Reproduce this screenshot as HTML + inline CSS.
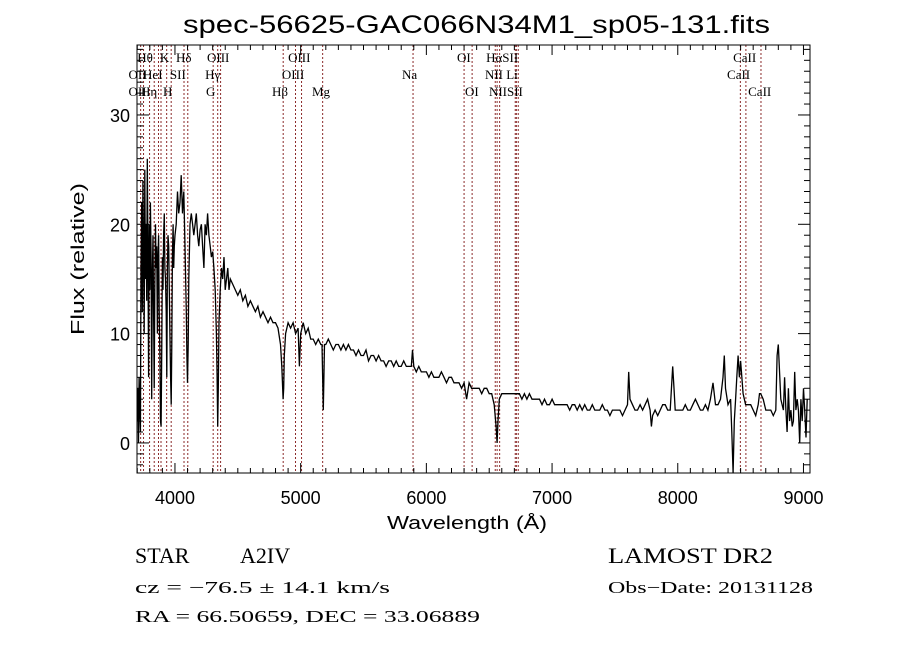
<!DOCTYPE html>
<html><head><meta charset="utf-8"><style>
html,body{margin:0;padding:0;background:#fff;}
svg{display:block;}
.sans{font-family:"Liberation Sans",sans-serif;}
.serif{font-family:"Liberation Serif",serif;}
</style></head><body>
<svg id="chart" width="900" height="649" viewBox="0 0 900 649" xmlns="http://www.w3.org/2000/svg">
<rect width="900" height="649" fill="#fff"/>
<text class="sans" x="183" y="33" font-size="25" textLength="587" lengthAdjust="spacingAndGlyphs">spec-56625-GAC066N34M1_sp05-131.fits</text>
<g id="lines"></g>
<g id="ticks"></g>
<path id="spec" fill="none" stroke="#000" stroke-width="1.3"/>
<rect x="137" y="45" width="673" height="428" fill="none" stroke="#000" stroke-width="1"/>
<g id="labels" class="serif" font-size="13"></g>
<text class="sans" x="467" y="529" font-size="18" text-anchor="middle" textLength="160" lengthAdjust="spacingAndGlyphs">Wavelength (Å)</text>
<text class="sans" font-size="18" text-anchor="middle" transform="translate(84,259) rotate(-90)" textLength="152" lengthAdjust="spacingAndGlyphs">Flux (relative)</text>
<text class="serif" x="135" y="563" font-size="22">STAR</text>
<text class="serif" x="240" y="563" font-size="22">A2IV</text>
<text class="serif" x="608" y="563" font-size="22" textLength="165" lengthAdjust="spacingAndGlyphs">LAMOST DR2</text>
<text class="serif" x="135" y="593" font-size="17" textLength="255" lengthAdjust="spacingAndGlyphs">cz = −76.5 ± 14.1 km/s</text>
<text class="serif" x="608" y="593" font-size="17" textLength="205" lengthAdjust="spacingAndGlyphs">Obs−Date: 20131128</text>
<text class="serif" x="135" y="622" font-size="17" textLength="345" lengthAdjust="spacingAndGlyphs">RA =  66.50659, DEC =  33.06889</text>
</svg>
<script>
const wave = [3700,3705,3710,3715,3720,3725,3730,3735,3740,3745,3750,3755,3760,3765,3770,3775,3780,3785,3790,3795,3800,3805,3810,3815,3820,3825,3830,3835,3840,3845,3850,3855,3860,3865,3870,3875,3880,3885,3890,3895,3900,3905,3910,3915,3920,3925,3930,3935,3940,3945,3950,3955,3960,3965,3970,3975,3980,3985,3990,3995,4000,4010,4020,4030,4040,4050,4060,4070,4080,4090,4095,4100,4105,4110,4120,4130,4140,4150,4160,4170,4180,4190,4200,4210,4220,4230,4240,4250,4260,4270,4280,4290,4300,4310,4320,4330,4335,4340,4345,4350,4360,4370,4380,4390,4400,4410,4420,4430,4440,4460,4480,4500,4520,4540,4560,4580,4600,4620,4640,4660,4680,4700,4720,4740,4760,4780,4800,4820,4840,4850,4860,4865,4870,4880,4900,4920,4940,4960,4980,4990,5000,5020,5040,5060,5080,5100,5120,5140,5160,5170,5180,5190,5200,5220,5240,5260,5280,5300,5320,5340,5360,5380,5400,5420,5440,5460,5480,5500,5520,5540,5560,5580,5600,5620,5640,5660,5680,5700,5720,5740,5760,5780,5800,5820,5840,5860,5880,5890,5900,5920,5940,5960,5980,6000,6020,6040,6060,6080,6100,6120,6140,6160,6180,6200,6220,6240,6260,6280,6300,6320,6340,6360,6380,6400,6420,6440,6460,6480,6500,6520,6540,6555,6563,6570,6580,6600,6620,6640,6660,6680,6700,6720,6740,6760,6780,6800,6820,6840,6860,6880,6900,6920,6940,6960,6980,7000,7020,7040,7060,7080,7100,7120,7140,7160,7180,7200,7220,7240,7260,7280,7300,7320,7340,7360,7380,7400,7420,7440,7460,7480,7500,7520,7540,7560,7580,7600,7610,7620,7640,7660,7680,7700,7720,7740,7760,7780,7790,7800,7820,7840,7860,7880,7900,7920,7940,7960,7970,7980,8000,8020,8040,8060,8080,8100,8120,8140,8160,8180,8200,8220,8240,8260,8280,8300,8320,8340,8360,8370,8380,8400,8420,8430,8440,8450,8460,8470,8480,8490,8500,8520,8540,8560,8580,8600,8620,8640,8650,8660,8680,8700,8720,8740,8760,8780,8790,8800,8820,8840,8850,8860,8870,8880,8890,8900,8910,8920,8930,8940,8950,8960,8970,8980,8990,9000,9010,9020,9030];
const flux = [2,5,0,6,3,1,16,22,12,24,18,10,25,15,20,13,26,18,6,20,14,22,17,4,15,19,12,5,14,20,16,18,10,17,19,12,8,2,1.5,9,17,14,19,21,16,15,12,6,16,19,18,14,10,6,3.5,9,17,20,16,18,19,20,23,21,22,24.5,21,23,18,12,8,5.5,9,15,20,21,20,19,20,21,19,18,19.5,20,18,16,20,19,21,19,18,17,17.5,16,14,10,6,1.5,5,11,14,16,15,17,14,15,16,14,15,14.5,14,13.5,14,13,13.5,12.5,13,12.5,12,12.5,11.5,12,11.5,11,11.5,11,11,10.5,9,7,4,5,8,10,11,10.5,11,10,10.5,7,10,11,10,10.5,9.5,9.5,9,9.5,9,9,3,9,9,9.5,9,8.5,9,9,8.5,9,8.5,9,8.5,8.5,8,8.5,8,8,8.5,7.5,8,8,7.5,8,7.5,7.5,7,7.5,7.5,7,7.5,7,7,7.5,7,7,7,8.5,7,6.5,7,6.5,6.5,6.5,6,6.5,6,6,6,6.5,6,5.5,6,6,5.5,5.5,5.5,5,5.5,4,5.5,5,5,5,5,4.5,5,5,4.5,4.5,3.5,1.5,0,2,4,4.5,4.5,4.5,4.5,4.5,4.5,4.5,4.5,4,4.5,4,4.5,4,4,4,4,3.5,4,3.5,3.5,4,3.5,3.5,3.5,3.5,3.5,3.5,3,3.5,3.5,3,3.5,3,3.5,3,3,3.5,3,3,3,3.5,3,3,2.5,3,3,3,3,2.5,3,3.5,6.5,4,3.5,3,3,3.5,3,3.5,4,3,1.5,2.5,3,2.5,3,3.5,3.5,3,3,7,5,3,3,3,3,3.5,3,3,3.5,4,3.5,3,3,3.5,3,4,5.5,3.5,3.5,4,6,8,5,3.5,4,1,-3,2,4,6,8,6,7.5,4.5,3.5,3.5,3.5,3,2.5,3.5,4.5,4.5,4,3,3,3,2.5,3,8,9,4,3,6,3,1,5,2,3,1.5,2,6.5,3,4,3,0,4,2,5,3,0.5,4,3];
const lineWaves = [3727,3750,3798,3835,3869,3889,3934,3970,4072,4102,4304,4340,4363,4861,4959,5007,5175,5894,6300,6364,6548,6563,6583,6707,6716,6731,8498,8542,8662];
const labelTexts = ["Hθ","K","Hδ","OIII","OIII","OI","HαSII","CaII","OII","HeI","SII","Hγ","OIII","Na","NII Li","CaII","OII","Hη","H","G","Hβ","Mg","OI","NIISII","CaII"];
const labelWaves = [3700,3880,4008,4255,4900,6244,6475,8440,3630,3746,3960,4240,4851,5806,6466,8392,3630,3730,3905,4247,4772,5090,6307,6498,8560];
const labelRows = [1,1,1,1,1,1,1,1,2,2,2,2,2,2,2,2,3,3,3,3,3,3,3,3,3];
const xTicks = [4000,5000,6000,7000,8000,9000];
const yTicks = [0,10,20,30];

const X0=137,X1=810,Y0=45,Y1=473;
const W0=3698,W1=9052,F0=-2.75,F1=36.4;
function xs(w){return X0+(w-W0)/(W1-W0)*(X1-X0);}
function ys(f){return Y1-(f-F0)/(F1-F0)*(Y1-Y0);}
const NS="http://www.w3.org/2000/svg";
const svg=document.getElementById('chart');
let d='';
for(let i=0;i<wave.length;i++){d+=(i?'L':'M')+xs(wave[i]).toFixed(1)+','+ys(Math.max(F0,flux[i])).toFixed(1);}
document.getElementById('spec').setAttribute('d',d);

const lg=document.getElementById('lines');
lineWaves.forEach(w=>{
  const l=document.createElementNS(NS,'line');
  
  
  l.setAttribute('x1',xs(w));l.setAttribute('x2',xs(w));l.setAttribute('y1',Y0);l.setAttribute('y2',Y1);
  l.setAttribute('stroke','#8b2a2a');l.setAttribute('stroke-width','1');l.setAttribute('stroke-dasharray','2,2');
  lg.appendChild(l);
});
const lab=document.getElementById('labels');
labelTexts.forEach((t,i)=>{
  const e=document.createElementNS(NS,'text');
  
  
  e.setAttribute('x',xs(labelWaves[i]));
  e.setAttribute('y',45+labelRows[i]*17);
  e.textContent=t;
  lab.appendChild(e);
});
const tg=document.getElementById('ticks');
function tk(x1,y1,x2,y2,name){
  const l=document.createElementNS(NS,'line');
  
  
  l.setAttribute('x1',x1);l.setAttribute('y1',y1);l.setAttribute('x2',x2);l.setAttribute('y2',y2);
  l.setAttribute('stroke','#000');l.setAttribute('stroke-width','1');
  tg.appendChild(l);
}
for(let w=3700;w<=9050;w+=100){
  const x=xs(w);const big=w%1000===0;const L=big?10:5;
  tk(x,Y1,x,Y1-L,'x-tick');tk(x,Y0,x,Y0+L,'x-tick-top');
}
for(let f=-2;f<=36;f+=1){
  const y=ys(f);const big=f%10===0;const L=big?12:6;
  tk(X0,y,X0+L,y,'y-tick');tk(X1,y,X1-L,y,'y-tick-right');
}
xTicks.forEach(w=>{
  const e=document.createElementNS(NS,'text');
  
  
  e.setAttribute('class','sans');e.setAttribute('font-size','18');e.setAttribute('text-anchor','middle');
  e.setAttribute('x',xs(w));e.setAttribute('y',504);e.textContent=w;svg.appendChild(e);
});
yTicks.forEach(f=>{
  const e=document.createElementNS(NS,'text');
  
  
  e.setAttribute('class','sans');e.setAttribute('font-size','18');e.setAttribute('text-anchor','end');
  e.setAttribute('x',130);e.setAttribute('y',ys(f)+7);e.textContent=f;svg.appendChild(e);
});
</script>
</body></html>
